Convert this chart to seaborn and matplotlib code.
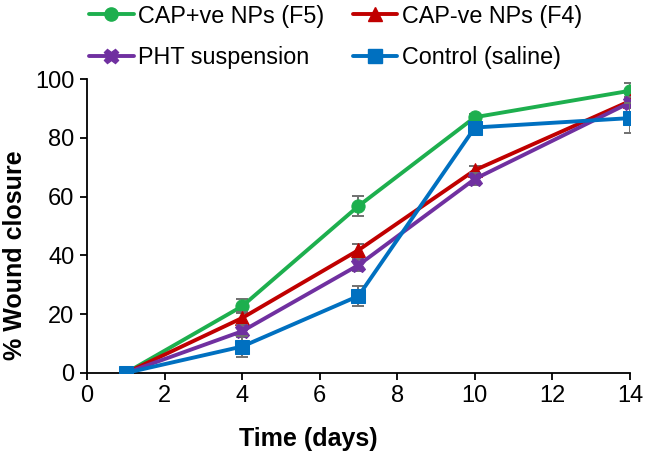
import numpy as np
import pandas as pd
import matplotlib
matplotlib.use("Agg")
import matplotlib.pyplot as plt
import seaborn as sns
from matplotlib.lines import Line2D

days = [1, 4, 7, 10, 14]
series_names = ["CAP+ve NPs (F5)", "CAP-ve NPs (F4)", "PHT suspension", "Control (saline)"]
f5 = [0.0, 22.7, 56.8, 87.0, 96.0]
f4 = [0.0, 18.7, 41.8, 69.0, 92.5]
pht = [0.0, 14.2, 36.7, 66.0, 92.0]
control = [0.0, 9.0, 26.2, 83.5, 86.7]
f5_err = [0.5, 2.3, 3.5, 1.0, 2.5]
f4_err = [0.5, 2.0, 2.0, 1.5, 1.5]
pht_err = [0.5, 2.0, 2.0, 2.0, 2.0]
control_err = [1.0, 3.5, 3.5, 1.5, 5.0]
x_ticks = [0, 2, 4, 6, 8, 10, 12, 14]
y_ticks = [0, 20, 40, 60, 80, 100]

colors = ["#1DAF4E", "#C00000", "#7030A0", "#0070C0"]
markers = ["o", "^", "X", "s"]

sns.set_style("white")
plt.rcParams['font.family'] = ['Liberation Sans', 'DejaVu Sans']
plt.rcParams['text.color'] = 'black'
plt.rcParams['axes.labelcolor'] = 'black'
plt.rcParams['xtick.color'] = 'black'
plt.rcParams['ytick.color'] = 'black'

vals = [f5, f4, pht, control]
errs = [f5_err, f4_err, pht_err, control_err]
df = pd.DataFrame({
    "day": np.tile(days, 4),
    "value": np.concatenate(vals),
    "err": np.concatenate(errs),
    "series": np.repeat(series_names, len(days)),
})

fig = plt.figure(figsize=(6.5, 4.58), dpi=100)
ax = fig.add_axes([0.1338, 0.1856, 0.9692 - 0.1338, 0.8275 - 0.1856])

for i, name in enumerate(series_names):
    sub = df[df.series == name]
    ax.errorbar(sub.day, sub.value, yerr=sub.err, fmt="none", ecolor="#707070",
                elinewidth=1.4, capsize=4.5, capthick=1.4, zorder=1 + i * 2)

msz = [9.5, 10, 10.5, 9.5]
for i, name in enumerate(series_names):
    sub = df[df.series == name]
    sns.lineplot(data=sub, x="day", y="value", ax=ax, color=colors[i],
                 marker=markers[i], markersize=msz[i],
                 markeredgecolor=colors[i], linewidth=2.8,
                 zorder=2 + i * 2, legend=False)

hs = [Line2D([], [], color=colors[i], marker=markers[i], linewidth=2.8,
             markersize=msz[i], markeredgecolor=colors[i])
      for i in range(4)]
order = [0, 2, 1, 3]
fig.legend([hs[k] for k in order], [series_names[k] for k in order],
           loc="upper left", bbox_to_anchor=(0.105, 1.036), ncol=2, frameon=False,
           fontsize=16.8, handlelength=1.9, handletextpad=0.2, columnspacing=1.2,
           labelspacing=0.78)

ax.set_xlim(0, 14)
ax.set_ylim(0, 100)
ax.set_xticks(x_ticks)
ax.set_yticks(y_ticks)
ax.tick_params(axis="both", which="major", labelsize=17, direction="out",
               length=5, width=1.3, color="black", bottom=True, left=True, pad=4)
for s in ["top", "right"]:
    ax.spines[s].set_visible(False)
for s in ["left", "bottom"]:
    ax.spines[s].set_color("black")
    ax.spines[s].set_linewidth(1.3)
ax.set_xlabel("Time (days)", fontsize=18, fontweight="bold")
ax.set_ylabel("% Wound closure", fontsize=18, fontweight="bold")
ax.xaxis.set_label_coords(0.407, -0.185)
ax.yaxis.set_label_coords(-0.11, 0.40)

fig.savefig("out.png", dpi=100)
